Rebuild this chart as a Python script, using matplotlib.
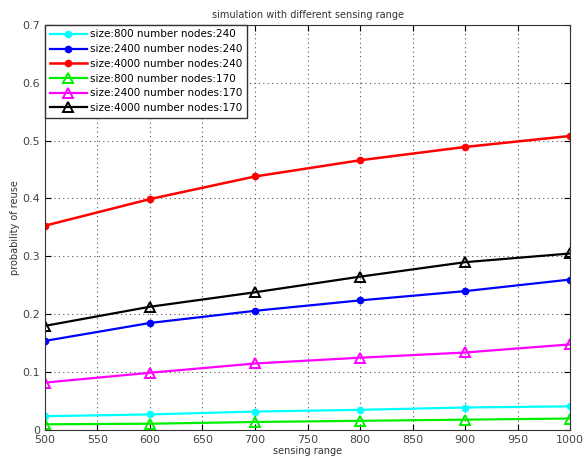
import numpy as np
import matplotlib.pyplot as plt

sensing = [500, 600, 700, 800, 900, 1000]

s800_240 = [0.024, 0.027, 0.032, 0.035, 0.039, 0.041]
s2400_240 = [0.154, 0.185, 0.206, 0.224, 0.240, 0.260]
s4000_240 = [0.353, 0.399, 0.438, 0.466, 0.489, 0.508]
s800_170 = [0.010, 0.011, 0.014, 0.016, 0.018, 0.020]
s2400_170 = [0.082, 0.099, 0.115, 0.125, 0.134, 0.148]
s4000_170 = [0.180, 0.213, 0.238, 0.265, 0.290, 0.305]

labels = [
    "size:800 number nodes:240",
    "size:2400 number nodes:240",
    "size:4000 number nodes:240",
    "size:800 number nodes:170",
    "size:2400 number nodes:170",
    "size:4000 number nodes:170",
]

fig = plt.figure(figsize=(5.83, 4.59), dpi=100)
ax = fig.add_axes([0.077, 0.063, 0.901, 0.883])

ax.plot(sensing, s800_240, "-o", color="cyan", lw=1.6, markersize=4.5, label=labels[0])
ax.plot(sensing, s2400_240, "-o", color="blue", lw=1.6, markersize=4.5, label=labels[1])
ax.plot(sensing, s4000_240, "-o", color="red", lw=1.8, markersize=4.5, label=labels[2])
ax.plot(sensing, s800_170, "-^", color="#00ee00", lw=1.6, markersize=7,
        markerfacecolor="none", markeredgewidth=1.4, label=labels[3])
ax.plot(sensing, s2400_170, "-^", color="magenta", lw=1.6, markersize=7,
        markerfacecolor="none", markeredgewidth=1.4, label=labels[4])
ax.plot(sensing, s4000_170, "-^", color="black", lw=1.6, markersize=7,
        markerfacecolor="none", markeredgewidth=1.4, label=labels[5])

ax.set_xlim(500, 1000)
ax.set_ylim(0, 0.7)
ax.set_xticks(np.arange(500, 1001, 50))
ax.set_yticks(np.arange(0, 0.71, 0.1))
ax.set_yticklabels(["0", "0.1", "0.2", "0.3", "0.4", "0.5", "0.6", "0.7"])
ax.tick_params(direction="in", labelsize=8, labelcolor="#444444", top=True, right=True, length=4)
ax.grid(True, linestyle=(0, (1, 3)), color="#555555", linewidth=0.8)
for sp in ax.spines.values():
    sp.set_color("#333333")

ax.set_title("simulation with different sensing range", fontsize=7, color="#333333", pad=5)
ax.set_xlabel("sensing range", fontsize=7, color="#333333", labelpad=1)
ax.set_ylabel("probability of reuse", fontsize=7, color="#333333", labelpad=2)

leg = ax.legend(loc="upper left", fontsize=7.5, fancybox=False, framealpha=1,
                edgecolor="#333333", borderaxespad=0, handlelength=3.6,
                labelspacing=0.45, borderpad=0.45, handletextpad=0.3)
leg.get_frame().set_linewidth(1.0)

fig.savefig("out.png", dpi=100)
